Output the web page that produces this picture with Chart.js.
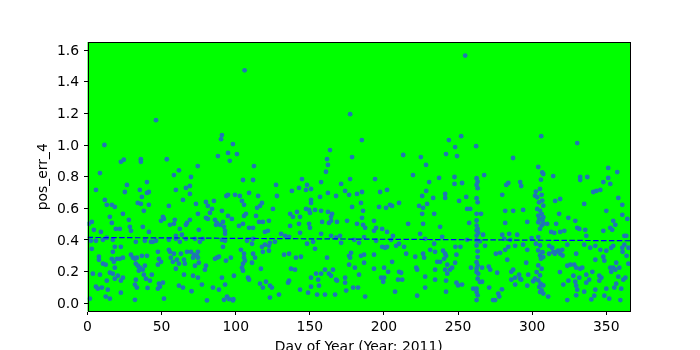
<!DOCTYPE html>
<html><head><meta charset="utf-8">
<script src="https://cdn.jsdelivr.net/npm/chart.js@4.4.1/dist/chart.umd.min.js"></script>
<style>html,body{margin:0;padding:0;overflow:hidden;background:#fff;}canvas{display:block;}</style>
</head><body>
<canvas id="c" width="700" height="360"></canvas>
<script>
// ---- data: day of year / pos_err_4 ----
const dayA = [11.4,22.5,24.5,36.0,36.0,46.2,53.5,61.7,74.4,88.0,90.1,90.7,98.1,94.8,96.0,100.8,106.0,112.3];
const errA = [1.00,0.894,0.907,0.91,0.894,1.157,0.91,0.84,0.867,0.93,1.037,1.063,1.006,0.95,0.90,0.943,1.472,0.867];

const dayB = [177.2,185.1,163.6,161.6,162.2,178.5,213.0,224.9,228.4,241.9,243.8,254.8,252.1,248.0,249.3,262.2,287.1,304.1,306.1,330.4,351.3];
const errB = [1.195,1.031,0.968,0.911,0.874,0.924,0.937,0.924,0.874,0.943,1.031,1.565,1.056,0.987,0.93,0.993,0.918,0.861,1.056,1.012,0.855];

const dayD1 = [8.4,5.7,26.6,25.2,35.3,36.7,40.1,41.4,40.1,58.3,69.8,59.6,66.4,69.1,69.1,64.4,73.2,79.9,81.2,85.3,93.7,94.8,99.5,102.8,104.9,111.7,109.0,115.1,104.2,105.6,117.7,116.4,11.7,13.0,16.4,18.4,33.9,36.0,41.4,54.9];
const errD1 = [0.823,0.716,0.748,0.703,0.716,0.672,0.766,0.703,0.697,0.81,0.798,0.716,0.729,0.741,0.691,0.653,0.628,0.640,0.615,0.647,0.678,0.685,0.685,0.678,0.779,0.779,0.697,0.678,0.647,0.622,0.634,0.615,0.653,0.622,0.622,0.609,0.634,0.628,0.622,0.615];

const dayD2 = [2.9,0.9,4.3,9.0,15.1,16.4,23.9,19.1,21.8,27.9,28.6,29.3,38.0,37.3,41.4,49.6,50.9,51.6,55.6,58.9,58.3,59.6,62.3,66.4,67.1,69.1,74.5,75.1,79.9,81.2,82.6,84.0,86.0,87.3,86.7,89.4,90.7,91.4,92.1,92.8,92.8,94.8,97.4,102.2,105.6,106.9,104.9,109.0,111.7,113.7,114.4,115.7,118.3,119.7,121.7,122.4,63.7];
const errD2 = [0.514,0.502,0.464,0.451,0.546,0.508,0.565,0.470,0.470,0.527,0.483,0.458,0.584,0.483,0.451,0.521,0.546,0.533,0.496,0.527,0.502,0.426,0.470,0.496,0.508,0.527,0.565,0.464,0.540,0.533,0.571,0.596,0.527,0.508,0.496,0.496,0.584,0.514,0.483,0.458,0.439,0.552,0.533,0.489,0.552,0.565,0.502,0.477,0.477,0.552,0.603,0.514,0.514,0.451,0.458,0.521,0.433];

const dayD3 = [2.3,2.9,5.7,10.4,13.0,17.1,18.4,22.5,32.6,38.7,42.8,44.1,46.2,54.9,59.6,66.4,72.5,77.8,90.7,92.8,91.4,107.6,111.0,111.7,119.7,62.3,75.8];
const errD3 = [0.395,0.344,0.395,0.401,0.414,0.401,0.357,0.357,0.388,0.395,0.388,0.388,0.395,0.401,0.407,0.407,0.407,0.407,0.401,0.395,0.357,0.395,0.376,0.407,0.370,0.388,0.388];

const dayD4 = [7.7,7.7,10.4,12.3,17.1,16.4,19.8,21.8,23.9,17.8,18.4,29.3,30.7,32.0,33.3,36.7,40.1,32.6,33.9,35.3,37.3,38.7,34.6,47.5,48.2,49.6,47.5,54.9,55.6,56.2,58.3,57.6,60.3,61.7,59.6,63.0,65.1,65.7,67.1,69.8,71.2,71.8,74.5,73.9,74.5,75.1,72.5,79.9,79.2,86.0,87.3,88.7,93.4,96.7,103.5,105.6,105.6,106.2,104.9,104.2,104.9,111.7,113.0,111.0,117.7,118.3,117.0,122.4];
const errD4 = [0.294,0.275,0.250,0.244,0.325,0.281,0.281,0.281,0.288,0.262,0.225,0.307,0.288,0.281,0.288,0.300,0.300,0.250,0.237,0.225,0.212,0.237,0.206,0.325,0.281,0.262,0.244,0.338,0.325,0.288,0.313,0.262,0.275,0.250,0.218,0.313,0.275,0.250,0.325,0.325,0.288,0.307,0.325,0.300,0.288,0.256,0.237,0.237,0.212,0.281,0.288,0.294,0.269,0.288,0.338,0.313,0.288,0.269,0.250,0.225,0.206,0.313,0.288,0.256,0.357,0.325,0.218,0.363];

const dayD5 = [3.6,8.4,15.1,17.1,20.5,18.4,23.9,22.5,13.0,5.7,7.0,9.7,13.7,22.5,32.6,32.0,33.3,38.0,39.4,42.1,43.4,48.2,50.9,48.9,47.5,61.7,64.4,65.1,71.2,74.5,77.2,84.6,90.7,92.8,88.7,98.8,108.3,109.0,116.4,118.3,12.3,15.1,1.6,51.6,80.6,92.1,94.1,95.5,98.1,98.4,32.0,40.5,70.2];
const errD5 = [0.187,0.181,0.193,0.187,0.174,0.155,0.162,0.143,0.143,0.105,0.092,0.099,0.086,0.067,0.149,0.118,0.099,0.181,0.155,0.143,0.181,0.124,0.130,0.105,0.092,0.111,0.099,0.181,0.174,0.162,0.118,0.099,0.162,0.118,0.086,0.174,0.162,0.149,0.124,0.099,0.042,0.029,0.029,0.029,0.018,0.022,0.042,0.026,0.018,0.026,0.022,0.097,0.076];

const dayE1 = [144.7,160.9,177.2,194.0,219.6,237.2,230.5,127.2,148.1,157.6,171.1,142.7,147.4,150.8,173.8,137.9,197.4,202.1,228.5,185.2,127.8,156.9,162.2,167.7,176.5,181.8,225.8,233.2,241.3,241.3,150.8,150.8,184.5,210.2,125.1,147.4,149.5,150.1,157.6,153.5,162.2,165.0,164.3,141.3,143.4,136.7,138.6,178.5,185.9,185.2,196.7,201.4,204.1,205.5,226.4,223.7,229.1,225.8,233.9,142.7,149.5,150.1,143.4,136.7,158.3,162.9,164.3,168.3,175.1,181.8,185.9,187.3,193.3,194.7,193.3,198.8,202.1,206.1,216.3,226.4,237.9,224.4,157.6,130.6,133.3,136.0];
const errE1 = [0.785,0.831,0.785,0.785,0.810,0.792,0.766,0.748,0.748,0.766,0.754,0.729,0.716,0.722,0.710,0.710,0.703,0.716,0.710,0.703,0.678,0.672,0.697,0.678,0.685,0.691,0.678,0.666,0.691,0.666,0.653,0.634,0.634,0.634,0.596,0.596,0.590,0.571,0.584,0.590,0.577,0.565,0.546,0.577,0.546,0.565,0.546,0.609,0.584,0.540,0.609,0.603,0.622,0.615,0.603,0.615,0.628,0.565,0.565,0.502,0.502,0.477,0.445,0.489,0.514,0.508,0.521,0.514,0.521,0.502,0.496,0.477,0.521,0.477,0.458,0.470,0.451,0.426,0.502,0.502,0.483,0.439,0.439,0.439,0.426,0.420];

const dayE2 = [164.3,170.4,167.7,179.9,186.6,194.7,204.8,210.2,213.6,208.2,198.8,200.8,202.1,148.1,152.2,153.5,126.5,123.1,171.1,183.2,227.8,239.3,233.9,231.2,234.5,239.9,241.3,122.4,132.6,136.0,140.6,144.0,161.6,176.5,177.8,177.2,184.5,186.6,186.6,176.5,180.4,193.3,193.3,205.5,215.0,221.1,226.4,227.1,235.9,237.9,240.6,241.9,242.7,137.3,140.0,160.2,165.6,200.1,202.8,210.2,211.6,221.8,222.4,234.5,241.3,242.7];
const errE2 = [0.426,0.426,0.414,0.401,0.418,0.395,0.401,0.376,0.357,0.363,0.357,0.351,0.357,0.376,0.388,0.344,0.388,0.382,0.382,0.382,0.407,0.420,0.376,0.338,0.325,0.332,0.313,0.332,0.307,0.313,0.288,0.294,0.288,0.300,0.319,0.288,0.300,0.307,0.256,0.244,0.225,0.307,0.218,0.262,0.313,0.294,0.313,0.288,0.262,0.262,0.281,0.300,0.244,0.218,0.212,0.212,0.212,0.225,0.199,0.199,0.193,0.225,0.212,0.212,0.212,0.187];

const dayE3 = [150.8,155.6,157.6,154.2,162.9,164.3,167.7,168.3,173.8,173.8,183.2,198.1,199.5,200.1,209.5,212.3,227.8,234.5,241.9,135.3,136.0,120.4,123.1,124.4,150.8,156.2,174.5,179.2,182.5,143.4,148.8,154.9,160.2,167.0,187.3,207.5,227.8,241.9,222.4,129.2,123.1];
const errE3 = [0.162,0.149,0.187,0.187,0.187,0.174,0.149,0.143,0.162,0.130,0.181,0.162,0.136,0.162,0.149,0.149,0.168,0.149,0.143,0.130,0.143,0.136,0.111,0.099,0.105,0.111,0.080,0.099,0.099,0.086,0.067,0.055,0.055,0.055,0.042,0.073,0.099,0.073,0.048,0.055,0.036];

const dayF1 = [247.6,247.6,252.7,267.6,314.2,332.4,332.4,337.2,351.3,348.0,352.7,357.4,255.5,250.7,279.8,283.9,282.5,291.9,292.6,315.5,318.9,335.1,343.3,341.2,346.0,358.1,360.8,256.1,258.2,281.8,287.2,293.9,318.2,324.4,329.1,350.0,360.8,364.2,257.5,281.8,296.7,265.5,266.9,279.8,284.5,289.9,310.1,316.2,312.8,314.9,318.9,321.7,330.4,331.8,335.8,336.5,348.0,352.7,354.0,354.7,356.1,362.2,363.5];
const errF1 = [0.798,0.754,0.760,0.810,0.804,0.798,0.779,0.798,0.792,0.766,0.754,0.829,0.672,0.647,0.685,0.760,0.748,0.766,0.741,0.647,0.659,0.628,0.710,0.703,0.716,0.666,0.622,0.596,0.596,0.584,0.584,0.590,0.565,0.540,0.521,0.584,0.559,0.533,0.508,0.508,0.514,0.565,0.433,0.433,0.439,0.433,0.502,0.502,0.451,0.445,0.451,0.458,0.477,0.470,0.464,0.426,0.458,0.477,0.464,0.521,0.496,0.426,0.426];

const dayF2 = [256.1,248.2,251.6,268.2,281.1,285.2,283.9,281.8,288.5,293.9,296.7,311.5,313.5,316.2,317.6,320.3,323.7,329.7,335.1,339.2,342.6,346.0,350.0,353.3,354.7,360.8,362.2,364.9,248.9,248.0,246.0,244.6,258.7,266.2,270.7,271.7,275.5,278.4,283.2,296.0,287.2,318.9,323.7,325.8,328.4,329.7,332.4,333.8,342.6,348.0,348.7,352.7,354.7,356.1,358.8,356.7,361.0,363.7,364.9,311.4,314.2,315.3,320.5];
const errF2 = [0.401,0.357,0.357,0.363,0.407,0.401,0.357,0.338,0.363,0.370,0.338,0.363,0.351,0.325,0.332,0.338,0.370,0.313,0.370,0.351,0.363,0.338,0.332,0.351,0.363,0.351,0.370,0.351,0.307,0.256,0.225,0.212,0.225,0.225,0.231,0.212,0.313,0.319,0.275,0.256,0.212,0.313,0.237,0.244,0.244,0.225,0.218,0.225,0.275,0.294,0.269,0.225,0.225,0.212,0.225,0.256,0.325,0.300,0.250,0.313,0.323,0.313,0.302];

const dayF3 = [248.9,250.0,252.7,266.2,260.2,271.0,276.4,277.1,277.8,275.0,273.6,285.9,285.9,288.5,291.9,291.2,292.6,296.7,288.5,297.3,310.8,321.0,324.4,327.8,329.1,329.7,330.4,331.8,335.1,336.5,336.5,338.5,340.6,341.9,342.6,345.3,345.3,346.7,348.7,350.0,352.0,353.3,355.4,356.7,358.1,359.5,360.1,361.5,362.9,323.7,339.9,279.6,329.7,318.7];
const errF3 = [0.130,0.113,0.118,0.136,0.092,0.099,0.193,0.061,0.042,0.020,0.020,0.149,0.199,0.162,0.155,0.181,0.149,0.111,0.118,0.181,0.042,0.118,0.143,0.174,0.136,0.111,0.086,0.162,0.073,0.181,0.130,0.149,0.199,0.048,0.086,0.174,0.143,0.162,0.048,0.092,0.029,0.199,0.099,0.124,0.168,0.020,0.092,0.149,0.162,0.020,0.024,0.088,0.050,0.197];

const dayG = [262.5,263.2,262.5,263.2,262.5,263.2,262.5,262.5,262.5,262.5,262.5,262.5,264.7,262.5,263.2,263.2,262.5,263.2,262.5,263.6,264.7,262.5,263.2,262.5,263.2,263.6,262.5,263.2,262.5];
const errG = [0.790,0.768,0.748,0.727,0.664,0.638,0.565,0.523,0.491,0.460,0.428,0.397,0.391,0.365,0.328,0.292,0.260,0.239,0.197,0.187,0.134,0.071,0.050,0.020,0.470,0.445,0.218,0.155,0.092];

const dayH = [306.8,307.5,305.9,302.5,305.3,301.9,303.4,306.4,306.8,304.6,307.5,303.4,305.3,306.4,304.1,307.5,304.8,307.0,304.1,306.4,305.3,307.5,304.1,299.6,302.5,305.3,304.1,307.0,305.3,307.5,305.9,304.1,306.4,303.0,305.3,301.9,300.7,304.1,305.7,307.5,304.8,306.4,307.5,305.3];
const errH = [0.827,0.817,0.781,0.706,0.722,0.680,0.670,0.685,0.649,0.638,0.617,0.596,0.586,0.565,0.554,0.544,0.533,0.523,0.512,0.491,0.470,0.502,0.418,0.412,0.376,0.365,0.334,0.323,0.302,0.292,0.281,0.239,0.218,0.197,0.176,0.155,0.139,0.145,0.124,0.113,0.103,0.082,0.061,0.071];

// trend line (fit shown dashed)
const trendDays = [0, 366];
const trendErr = [0.416, 0.395];

// axis ticks
const xTicks = [0, 50, 100, 150, 200, 250, 300, 350];
const yTicks = [0.0, 0.2, 0.4, 0.6, 0.8, 1.0, 1.2, 1.4, 1.6];

const days = [].concat(dayA, dayB, dayD1, dayD2, dayD3, dayD4, dayD5, dayE1, dayE2, dayE3, dayF1, dayF2, dayF3, dayG, dayH);
const errs = [].concat(errA, errB, errD1, errD2, errD3, errD4, errD5, errE1, errE2, errE3, errF1, errF2, errF3, errG, errH);
const points = days.map((d, i) => ({x: d, y: errs[i]}));
const trend = trendDays.map((d, i) => ({x: d, y: trendErr[i]}));

const framePlugin = {
  id: 'frame',
  beforeDraw(chart) {
    const {ctx, chartArea: a} = chart;
    ctx.save();
    ctx.fillStyle = '#00ff00';
    ctx.fillRect(a.left, a.top, a.right - a.left, a.bottom - a.top);
    ctx.restore();
  },
  afterDraw(chart) {
    const {ctx, chartArea: a} = chart;
    const x0 = Math.round(a.left) + 0.5, y0 = Math.round(a.top) + 0.5;
    const x1 = Math.round(a.right) + 0.5, y1 = Math.round(a.bottom) - 0.5;
    ctx.save();
    ctx.strokeStyle = '#000';
    ctx.lineWidth = 1;
    ctx.strokeRect(x0, y0, x1 - x0, y1 - y0);
    ctx.restore();
  }
};

const FONT = 'DejaVu Sans';
new Chart(document.getElementById('c'), {
  type: 'scatter',
  data: {
    datasets: [
      {data: trend, showLine: true, borderColor: '#0000ff', borderWidth: 1.2, borderDash: [5.5, 2.4],
       pointRadius: 0, fill: false, order: 0},
      {data: points, pointRadius: 2.4, pointBackgroundColor: '#1f77b4', pointBorderWidth: 0,
       pointBorderColor: '#1f77b4', order: 1}
    ]
  },
  options: {
    responsive: false, animation: false, devicePixelRatio: 1, events: [],
    layout: {padding: {left: 0, right: 70, top: 42, bottom: 0}},
    plugins: {legend: {display: false}, tooltip: {enabled: false}},
    scales: {
      x: {
        type: 'linear', min: 0, max: 366,
        afterBuildTicks(s) { s.ticks = xTicks.map(v => ({value: v})); },
        ticks: {autoSkip: false, maxRotation: 0, color: '#000', padding: 4, font: {family: FONT, size: 13.9},
                callback: v => String(v)},
        grid: {drawOnChartArea: false, drawTicks: true, tickLength: 3.5, tickColor: '#000', tickWidth: 1},
        border: {display: false},
        title: {display: true, text: 'Day of Year (Year: 2011)', color: '#000',
                font: {family: FONT, size: 13.9}, padding: {top: 0, bottom: 4.7}},
        afterFit(s) { s.height = 48.5; }
      },
      y: {
        type: 'linear', min: -0.052, max: 1.651,
        afterBuildTicks(s) { s.ticks = yTicks.map(v => ({value: v})); },
        ticks: {color: '#000', padding: 4.9, labelOffset: 1, font: {family: FONT, size: 13.9},
                callback: v => Number(v).toFixed(1)},
        grid: {drawOnChartArea: false, drawTicks: true, tickLength: 3.5, tickColor: '#000', tickWidth: 1},
        border: {display: false},
        title: {display: true, text: 'pos_err_4', color: '#000',
                font: {family: FONT, size: 13.9}, padding: {top: 34.7, bottom: 0}},
        afterFit(s) { s.width = 87.5; }
      }
    }
  },
  plugins: [framePlugin]
});
</script>
</body></html>
